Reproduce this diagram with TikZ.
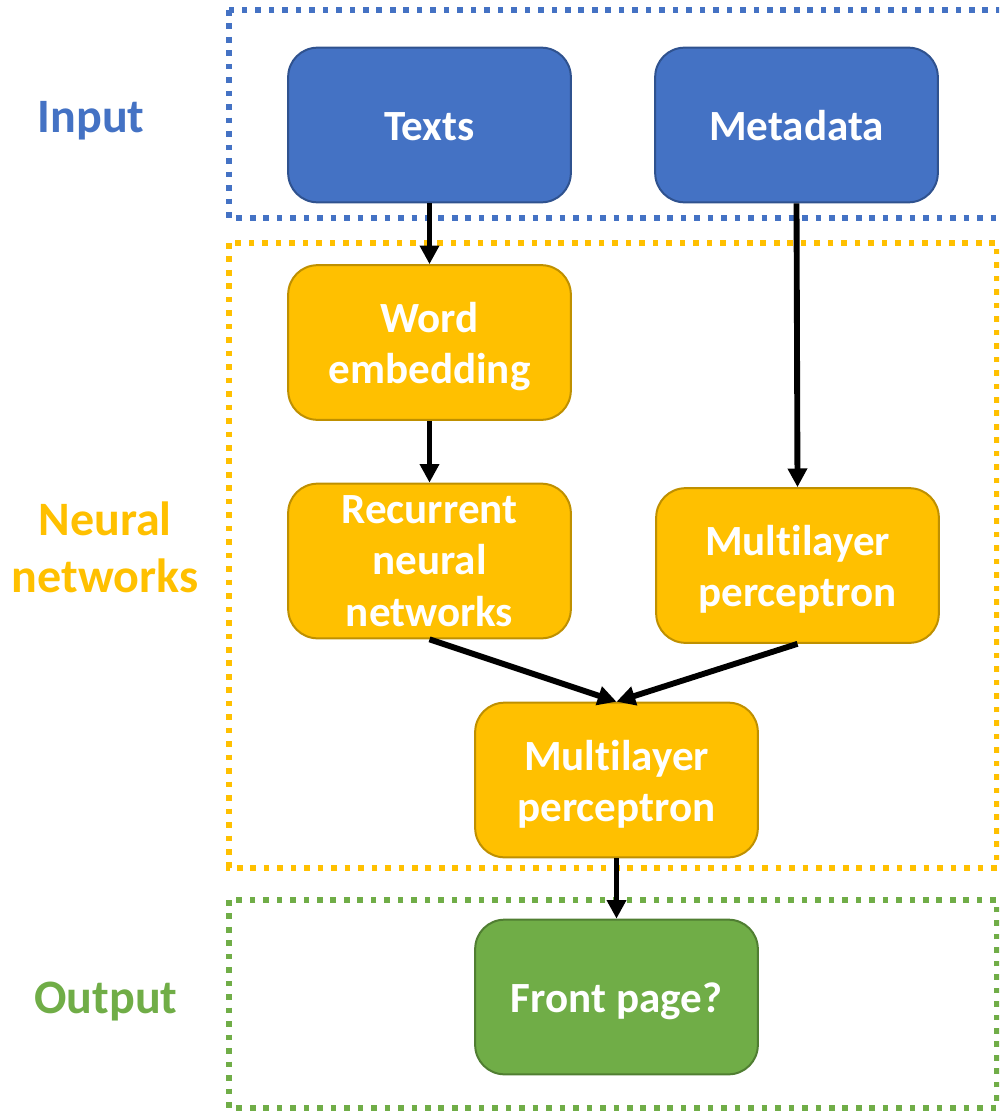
\documentclass[tikz,border=0pt]{standalone}
\usepackage{fontspec}
\setmainfont{Carlito}[Ligatures=NoCommon]
\usetikzlibrary{arrows.meta}
\definecolor{cblue}{HTML}{4472C4}
\definecolor{cblueb}{HTML}{2F528F}
\definecolor{cyel}{HTML}{FFC000}
\definecolor{cyelb}{HTML}{BF9000}
\definecolor{cgreen}{HTML}{70AD47}
\definecolor{cgreenb}{HTML}{507E32}
\newcommand{\mytop}{\rule{0pt}{36pt}}
\newcommand{\mybot}{\rule[-12.4pt]{0pt}{12.4pt}}
\tikzset{
  box/.style={rectangle, rounded corners=22pt, minimum width=212pt, minimum height=116pt,
    line width=1.5pt, align=center, text=white, inner sep=0pt,
    font=\fontsize{32.3}{38.5}\selectfont\bfseries},
  bluebox/.style={box, fill=cblue, draw=cblueb},
  yelbox/.style={box, fill=cyel, draw=cyelb},
  greenbox/.style={box, fill=cgreen, draw=cgreenb},
  frame/.style={line width=4.2pt, dash pattern=on 4.2pt off 5.9pt},
  lab/.style={align=center, font=\fontsize{36}{43}\selectfont\bfseries},
  conn/.style={line width=4.4pt, -{Triangle[length=14pt,width=14pt]}},
}
\begin{document}
\begin{tikzpicture}[x=0.75pt,y=-0.75pt]
\useasboundingbox (0,0) rectangle (999,1113);
\clip (0,0) rectangle (999,1113);
% frames
\draw[frame, cblue] (229,10) rectangle (1020,218);
\draw[frame, cyel] (229,243) rectangle (997,868);
\draw[frame, cgreen] (229,900) rectangle (997,1108);
% labels
\node[lab, text=cblue] (linput) at (91,120.5) {Input};
\node[lab, text=cyel] (lnn) at (105,547.5) {Neural\\networks};
\node[lab, text=cgreen] (loutput) at (106,1002) {Output};
% boxes
\node[bluebox] (texts) at (429.5,125) {\mytop Texts\mybot};
\node[bluebox] (meta) at (796.5,125) {\mytop Metadata\mybot};
\node[yelbox] (word) at (429.5,342.5) {\mytop Word\\embedding\mybot};
\node[yelbox] (rnn) at (429.5,561) {Recurrent\\neural\\networks};
\node[yelbox] (mlp1) at (797.5,565.5) {\mytop Multilayer\\perceptron\mybot};
\node[yelbox] (mlp2) at (616.5,780) {\mytop Multilayer\\perceptron\mybot};
\node[greenbox] (front) at (616.5,997) {\mytop Front page?\mybot};
% connectors
\draw[conn] (texts.south) -- (word.north);
\draw[conn] (meta.south) -- (mlp1.north);
\draw[conn] (word.south) -- (rnn.north);
\draw[conn] (rnn.south) -- (mlp2.north);
\draw[conn] (mlp1.south) -- (mlp2.north);
\draw[conn] (mlp2.south) -- (front.north);
\end{tikzpicture}
\end{document}
